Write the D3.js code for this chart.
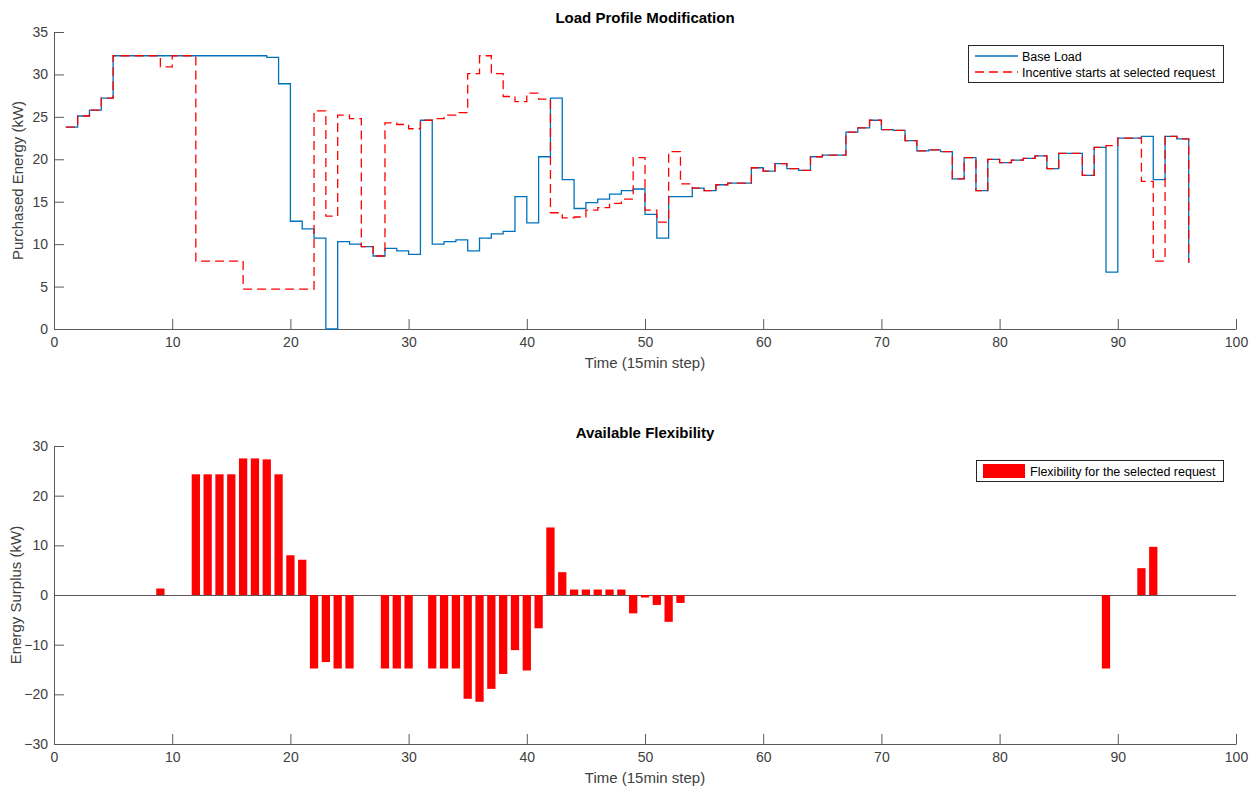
<!DOCTYPE html>
<html>
<head>
<meta charset="utf-8">
<script src="https://cdn.jsdelivr.net/npm/d3@7"></script>
<style>
    body { margin: 0; background: #fff; }
    text { font-family: "Liberation Sans", Arial, Helvetica, sans-serif; }
</style>
</head>
<body>
<div id="chart"></div>
<script>

// Data (15 min steps 1..96)

const steps = d3.range(1, 97);

const baseLoad = [
    23.8, 25.1, 25.8, 27.2, 32.2, 32.2, 32.2, 32.2, 32.2, 32.2,
    32.2, 32.2, 32.2, 32.2, 32.2, 32.2, 32.2, 32.0, 28.9, 12.7,
    11.8, 10.7, 0.0, 10.3, 10.0, 9.7, 8.6, 9.5, 9.2, 8.8,
    24.6, 10.0, 10.3, 10.5, 9.2, 10.7, 11.2, 11.5, 15.6, 12.5,
    20.3, 27.2, 17.6, 14.2, 14.9, 15.3, 15.9, 16.3, 16.5, 13.5,
    10.7, 15.6, 15.6, 16.6, 16.3, 17.0, 17.2, 17.2, 19.0, 18.6,
    19.5, 18.9, 18.7, 20.3, 20.5, 20.5, 23.2, 23.7, 24.6, 23.5,
    23.4, 22.2, 21.0, 21.1, 20.9, 17.7, 20.2, 16.3, 20.0, 19.6,
    19.9, 20.1, 20.4, 18.9, 20.7, 20.7, 18.1, 21.4, 6.7, 22.5,
    22.5, 22.7, 17.6, 22.7, 22.4, 7.8
];

const incentiveLoad = [
    23.8, 25.1, 25.8, 27.2, 32.2, 32.2, 32.2, 32.2, 30.9, 32.2,
    32.2, 8.0, 8.0, 8.0, 8.0, 4.7, 4.7, 4.7, 4.7, 4.7,
    4.7, 25.7, 13.3, 25.2, 24.8, 9.7, 8.6, 24.3, 24.1, 23.6,
    24.6, 24.8, 25.2, 25.5, 30.1, 32.2, 30.1, 27.4, 26.8, 27.8,
    27.1, 13.7, 13.1, 13.2, 14.0, 14.3, 14.8, 15.3, 20.2, 14.0,
    12.6, 20.9, 17.1, 16.6, 16.3, 17.0, 17.2, 17.2, 19.0, 18.6,
    19.5, 18.9, 18.7, 20.3, 20.5, 20.5, 23.2, 23.7, 24.6, 23.5,
    23.4, 22.2, 21.0, 21.1, 20.9, 17.7, 20.2, 16.3, 20.0, 19.6,
    19.9, 20.1, 20.4, 18.9, 20.7, 20.7, 18.1, 21.4, 21.6, 22.5,
    22.5, 17.4, 8.0, 22.7, 22.4, 7.8
];

const flexibility = [
    0, 0, 0, 0, 0, 0, 0, 0, 1.3, 0,
    0, 24.3, 24.3, 24.3, 24.3, 27.5, 27.5, 27.3, 24.3, 8.0,
    7.1, -14.8, -13.5, -14.8, -14.8, 0, 0, -14.8, -14.8, -14.8,
    0, -14.8, -14.8, -14.8, -20.9, -21.5, -18.9, -15.9, -11.1, -15.2,
    -6.7, 13.6, 4.6, 1.1, 1.1, 1.1, 1.1, 1.1, -3.7, -0.5,
    -2.0, -5.4, -1.6, 0, 0, 0, 0, 0, 0, 0,
    0, 0, 0, 0, 0, 0, 0, 0, 0, 0,
    0, 0, 0, 0, 0, 0, 0, 0, 0, 0,
    0, 0, 0, 0, 0, 0, 0, 0, -14.8, 0,
    0, 5.4, 9.7, 0, 0, 0
];

const xTicks = [0, 10, 20, 30, 40, 50, 60, 70, 80, 90, 100];
const yTicksTop = [0, 5, 10, 15, 20, 25, 30, 35];
const yTicksBottom = [-30, -20, -10, 0, 10, 20, 30];

// Configure

const dimensions = { width: 1258, height: 790 };

const plot = { left: 54, right: 1236 };
const topPlot = { top: 32, bottom: 329 };
const bottomPlot = { top: 446, bottom: 744 };

const design = {
    blue: "#0072BD",
    red: "#FF0000",
    axis: "#5a5a5a",
    label: "#404040",
    tickSize: 10,
    barWidth: 0.7,
};

const svg = d3.select("#chart").append("svg")
    .attr("width", dimensions.width)
    .attr("height", dimensions.height);

// Scales

const xScale = d3.scaleLinear().domain([0, 100]).range([plot.left, plot.right]);
const yTop = d3.scaleLinear().domain([0, 35]).range([topPlot.bottom, topPlot.top]);
const yBottom = d3.scaleLinear().domain([-30, 30]).range([bottomPlot.bottom, bottomPlot.top]);

function drawAxes(yScale, yTicks, area) {

    const xAxis = d3.axisBottom(xScale)
        .tickValues(xTicks)
        .tickSizeInner(-design.tickSize)
        .tickSizeOuter(0)
        .tickPadding(8);

    const gx = svg.append("g")
        .attr("transform", "translate(0," + area.bottom + ")")
        .call(xAxis);

    const yAxis = d3.axisLeft(yScale)
        .tickValues(yTicks)
        .tickSizeInner(-design.tickSize)
        .tickSizeOuter(0)
        .tickPadding(6);

    const gy = svg.append("g")
        .attr("transform", "translate(" + plot.left + ",0)")
        .call(yAxis);

    [gx, gy].forEach(g => {
        g.select(".domain").attr("stroke", design.axis);
        g.selectAll(".tick line").attr("stroke", design.axis);
        g.selectAll(".tick text")
            .attr("fill", design.label)
            .style("font-size", "14px");
    });
}

// Top chart

drawAxes(yTop, yTicksTop, topPlot);

const stairs = values => d3.line()
    .curve(d3.curveStepAfter)
    .x((d, i) => xScale(steps[i]))
    .y(d => yTop(d))(values);

svg.append("path")
    .attr("fill", "none")
    .attr("stroke", design.blue)
    .attr("stroke-width", 1.3)
    .attr("d", stairs(baseLoad));

svg.append("path")
    .attr("fill", "none")
    .attr("stroke", design.red)
    .attr("stroke-width", 1.3)
    .attr("stroke-dasharray", "9,5")
    .attr("d", stairs(incentiveLoad));

// Bottom chart

svg.append("line")
    .attr("x1", xScale(0))
    .attr("x2", xScale(100))
    .attr("y1", yBottom(0) + 0.5)
    .attr("y2", yBottom(0) + 0.5)
    .attr("stroke", design.axis);

svg.append("g").selectAll("rect")
    .data(flexibility)
    .enter()
    .append("rect")
    .attr("fill", design.red)
    .attr("x", (d, i) => xScale(steps[i] - design.barWidth / 2))
    .attr("width", xScale(design.barWidth) - xScale(0))
    .attr("y", d => yBottom(Math.max(d, 0)))
    .attr("height", d => Math.abs(yBottom(d) - yBottom(0)));

drawAxes(yBottom, yTicksBottom, bottomPlot);

// Titles and labels

const centerX = (plot.left + plot.right) / 2;

function title(text, y) {
    svg.append("text")
        .attr("x", centerX)
        .attr("y", y)
        .attr("text-anchor", "middle")
        .style("font-size", "15px")
        .style("font-weight", "bold")
        .text(text);
}

function xLabel(y) {
    svg.append("text")
        .attr("x", centerX)
        .attr("y", y)
        .attr("text-anchor", "middle")
        .attr("fill", design.label)
        .style("font-size", "15px")
        .text("Time (15min step)");
}

function yLabel(text, x, cy) {
    svg.append("text")
        .attr("transform", "translate(" + x + "," + cy + ") rotate(-90)")
        .attr("text-anchor", "middle")
        .attr("fill", design.label)
        .style("font-size", "15px")
        .text(text);
}

title("Load Profile Modification", 23);
title("Available Flexibility", 438);

xLabel(368);
xLabel(783);

yLabel("Purchased Energy (kW)", 23, (topPlot.top + topPlot.bottom) / 2);
yLabel("Energy Surplus (kW)", 21, (bottomPlot.top + bottomPlot.bottom) / 2);

// Legends

const legendTop = svg.append("g");

legendTop.append("rect")
    .attr("x", 968.5).attr("y", 45.5)
    .attr("width", 255).attr("height", 37)
    .attr("fill", "#fff").attr("stroke", "#262626");

legendTop.append("line")
    .attr("x1", 975).attr("x2", 1018)
    .attr("y1", 56).attr("y2", 56)
    .attr("stroke", design.blue).attr("stroke-width", 1.3);

legendTop.append("line")
    .attr("x1", 975).attr("x2", 1018)
    .attr("y1", 72).attr("y2", 72)
    .attr("stroke", design.red).attr("stroke-width", 1.3)
    .attr("stroke-dasharray", "9,5");

legendTop.append("text")
    .attr("x", 1022).attr("y", 60.5)
    .style("font-size", "12.5px")
    .text("Base Load");

legendTop.append("text")
    .attr("x", 1022).attr("y", 77)
    .style("font-size", "12.5px")
    .text("Incentive starts at selected request");

const legendBottom = svg.append("g");

legendBottom.append("rect")
    .attr("x", 976.5).attr("y", 460.5)
    .attr("width", 247).attr("height", 21)
    .attr("fill", "#fff").attr("stroke", "#262626");

legendBottom.append("rect")
    .attr("x", 983).attr("y", 464)
    .attr("width", 42).attr("height", 14)
    .attr("fill", design.red);

legendBottom.append("text")
    .attr("x", 1030).attr("y", 475.5)
    .style("font-size", "12.5px")
    .text("Flexibility for the selected request");

</script>
</body>
</html>
